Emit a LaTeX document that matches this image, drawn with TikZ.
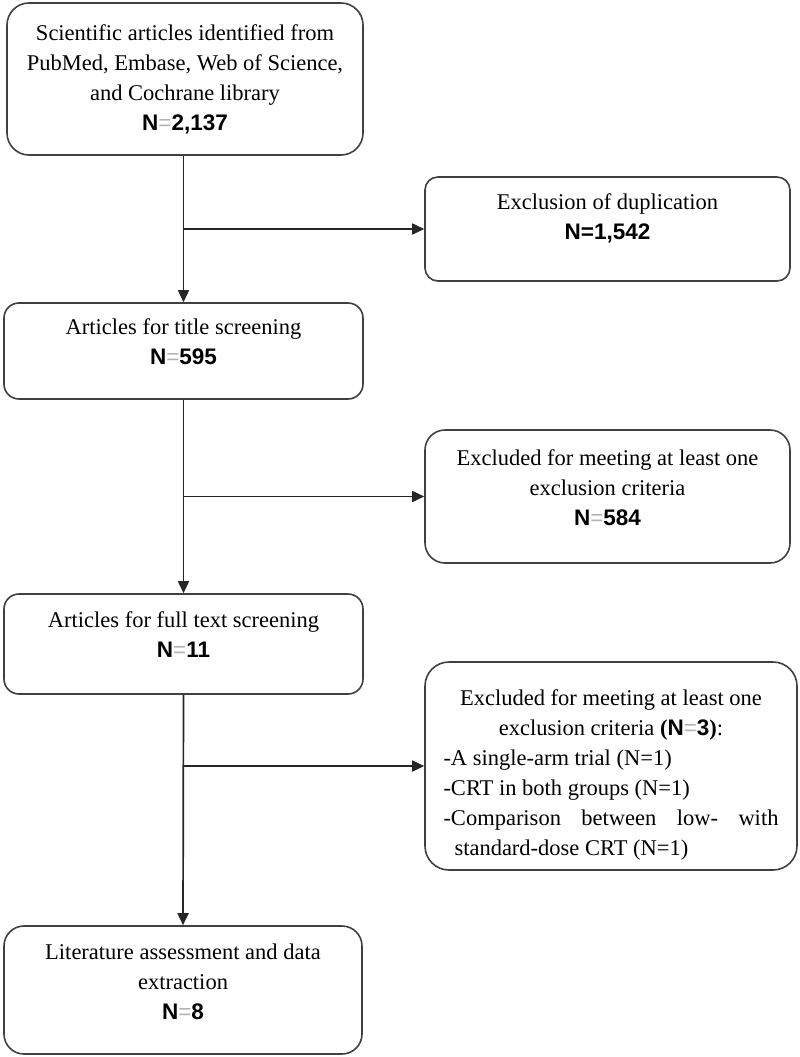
\documentclass[tikz,border=0pt]{standalone}
\usepackage{fontspec}
\setmainfont{Liberation Serif}
\newfontfamily\numfont{Liberation Sans}
\usetikzlibrary{arrows.meta}

\newcommand{\numN}[1]{{\numfont\bfseries N}{\numfont\color{gray!60}=}{\numfont\bfseries #1}}

\begin{document}
\begin{tikzpicture}[x=1pt,y=-1pt,
	box/.style={draw=black!75,line width=1.6pt,rounded corners=15pt,align=center,
		font=\fontsize{22.5}{30}\selectfont,inner sep=0pt},
	arr/.style={draw=black!85,line width=1.7pt,-{Triangle[length=12pt,width=11pt]}}]
				\useasboundingbox (0,0) rectangle (800,1057);
				
				% left column
				\path (185,79) node[box,minimum width=356pt,minimum height=152pt,rounded corners=22pt] (src)
					{Scientific articles identified from\\PubMed, Embase, Web of Science,\\and Cochrane library\\\numN{2,137}};
				\path (183.5,351) node[box,minimum width=359pt,minimum height=96pt] (title)
					{Articles for title screening\\\numN{595}\rule[-19pt]{0pt}{0pt}};
				\path (183.5,644) node[box,minimum width=359pt,minimum height=100pt] (full)
					{Articles for full text screening\\\numN{11}\rule[-19pt]{0pt}{0pt}};
				\path (183,990) node[box,minimum width=358pt,minimum height=128pt,rounded corners=20pt] (lit)
					{Literature assessment and data\\extraction\\\numN{8}\rule[-17pt]{0pt}{0pt}};
				
				% right column
				\path (607.5,229) node[box,minimum width=365pt,minimum height=104pt,rounded corners=13pt] (dup)
					{Exclusion of duplication\\{\numfont\bfseries N=1,542}\rule[-25pt]{0pt}{0pt}};
				\path (607.5,496.5) node[box,minimum width=365pt,minimum height=133pt,rounded corners=20pt] (excl1)
					{Excluded for meeting at least one\\exclusion criteria\\\numN{584}\rule[-18pt]{0pt}{0pt}};
				\path (611,766) node[box,minimum width=372pt,minimum height=208pt,rounded corners=24pt] (excl2)
					{\rule{0pt}{33pt}Excluded for meeting at least one\\
					exclusion criteria \textbf{(}\numN{3}\textbf{)}:\\
					\makebox[335pt][l]{-A single-arm trial (N=1)}\\
					\makebox[335pt][l]{-CRT in both groups (N=1)}\\
					\makebox[335pt][s]{-Comparison between low- with}\\
					\makebox[335pt][l]{\hspace{11pt}standard-dose CRT (N=1)}};
				
				% connectors
				\draw[arr] (src.south -| title.north) -- (title.north);
				\draw[arr] (title.north |- dup.west) -- (dup.west);
				\draw[arr] (title.south) -- (full.north);
				\draw[arr] (title.south |- excl1.west) -- (excl1.west);
				\draw[arr] (full.south) -- (lit.north);
				\draw[arr] (full.south |- excl2.west) -- (excl2.west);
\end{tikzpicture}
\end{document}
